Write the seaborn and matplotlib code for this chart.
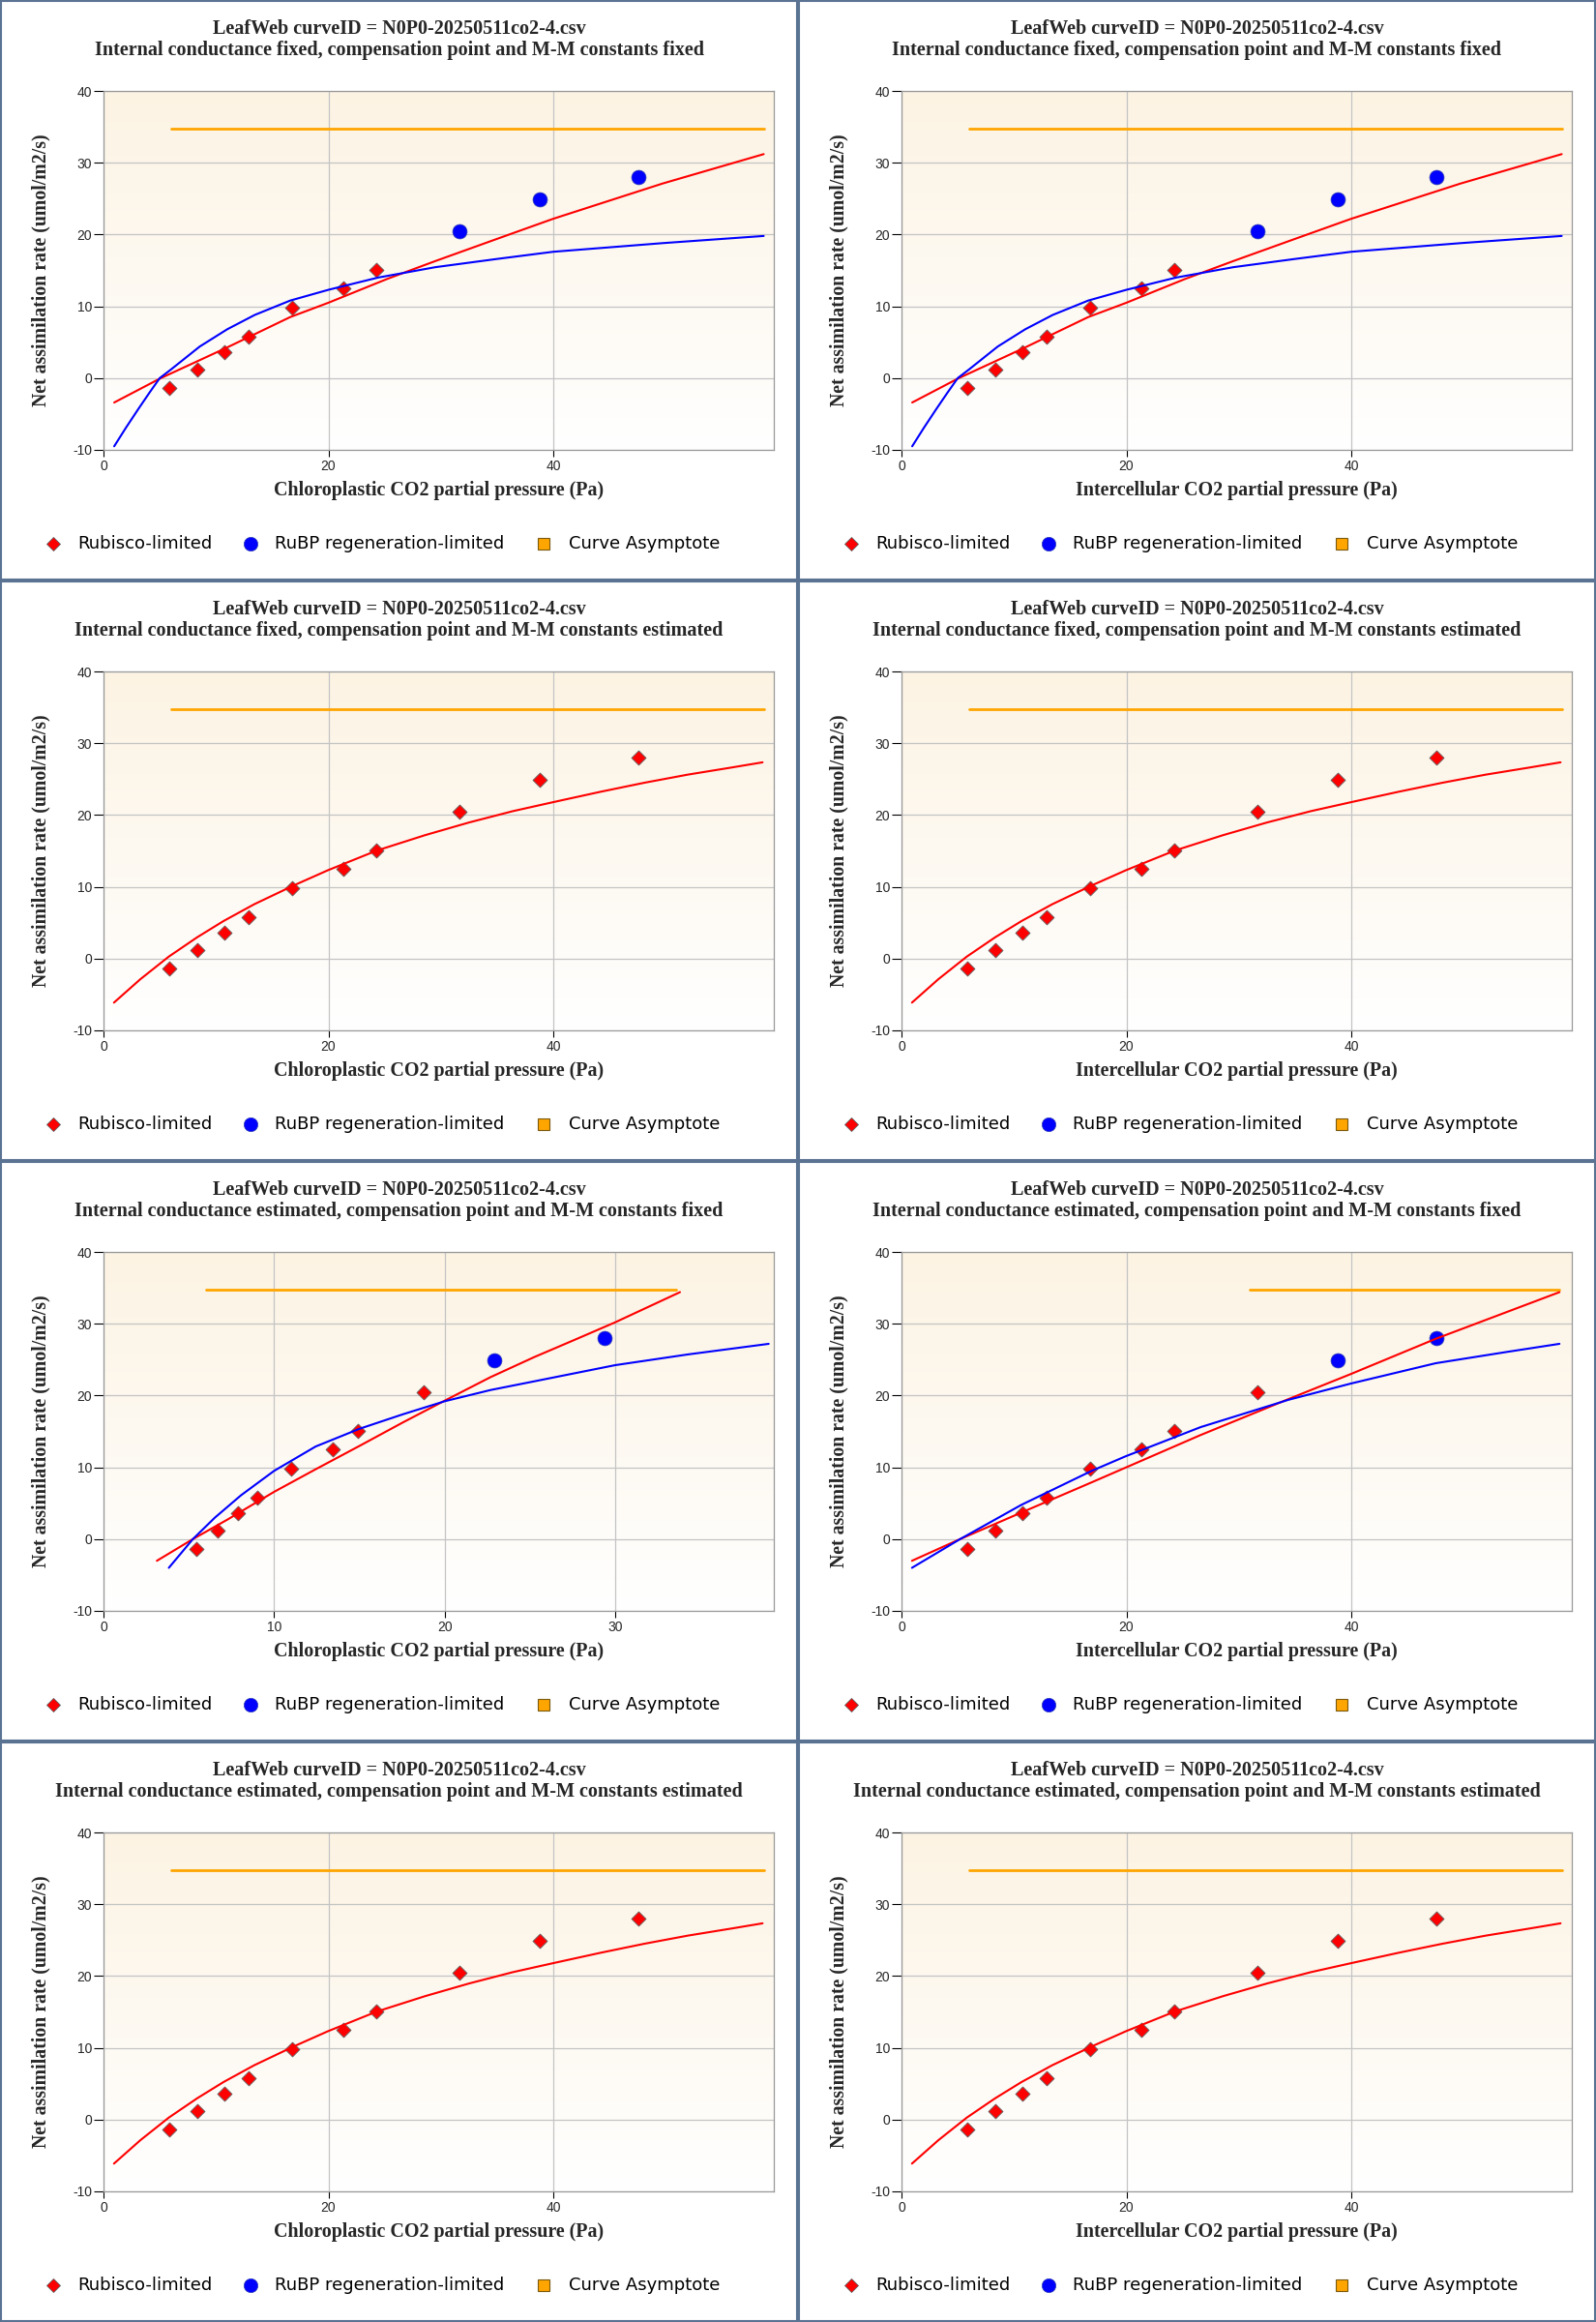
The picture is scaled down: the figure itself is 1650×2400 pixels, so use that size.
import numpy as np
import pandas as pd
import matplotlib
matplotlib.use("Agg")
import matplotlib.pyplot as plt
import seaborn as sns
from matplotlib.lines import Line2D
from matplotlib.patches import Rectangle
from matplotlib.colors import LinearSegmentedColormap

# ---- data ----
curve_id = "LeafWeb curveID = N0P0-20250511co2-4.csv"

# measured points (A vs Ci, and A vs Cc when gm is estimated)
ci_obs = [5.84, 8.30, 10.74, 12.88, 16.77, 21.35, 24.25, 31.68, 38.80, 47.58]
cc_obs_gm = [5.46, 6.67, 7.90, 9.03, 11.03, 13.43, 14.91, 18.79, 22.93, 29.35]
a_obs = [-1.40, 1.22, 3.58, 5.73, 9.76, 12.56, 15.06, 20.40, 24.93, 28.03]

# gm fixed, Gamma*/Km fixed
red_ff_x = [0.95, 5.1, 10.9, 16.6, 20.0, 25.2, 29.5, 35.0, 40.0, 49.7, 58.7]
red_ff_y = [-3.4, 0.0, 4.2, 8.5, 10.5, 13.8, 16.3, 19.4, 22.2, 27.1, 31.2]
blue_ff_x = [0.95, 2.0, 3.1, 4.1, 5.0, 6.0, 8.56, 11.0, 13.45, 16.6, 20.0, 24.4,
             29.5, 35.0, 40.0, 49.7, 58.7]
blue_ff_y = [-9.5, -6.9, -4.3, -2.0, 0.0, 1.2, 4.4, 6.8, 8.8, 10.8, 12.3, 14.0,
             15.45, 16.6, 17.6, 18.8, 19.8]

# Gamma*/Km estimated (only Rubisco-limited)
red_est_x = [0.93, 3.27, 5.8, 8.33, 10.67, 13.4, 16.9, 19.94, 24.3, 28.6, 32.5,
             36.4, 40.0, 44.2, 48.1, 51.96, 55.85, 58.6]
red_est_y = [-6.13, -2.88, 0.27, 2.97, 5.23, 7.57, 10.18, 12.3, 15.05, 17.2,
             18.96, 20.54, 21.8, 23.24, 24.5, 25.63, 26.62, 27.34]

# gm estimated, Gamma*/Km fixed, chloroplastic
red_gc_x = [3.13, 5.24, 7.29, 10.0, 12.44, 15.0, 17.56, 20.0, 22.7, 25.26, 27.83, 30.0, 33.8]
red_gc_y = [-3.02, 0.0, 2.75, 6.58, 9.73, 12.97, 16.26, 19.28, 22.57, 25.36, 27.97, 30.2, 34.4]
blue_gc_x = [3.83, 5.24, 6.52, 8.06, 10.0, 12.44, 15.0, 17.56, 20.0, 22.7, 25.26,
             30.0, 34.25, 39.0]
blue_gc_y = [-4.0, 0.0, 2.97, 6.1, 9.5, 12.9, 15.36, 17.39, 19.2, 20.77, 21.98,
             24.23, 25.72, 27.2]

# gm estimated, Gamma*/Km fixed, intercellular
red_gi_x = [0.93, 5.21, 10.66, 16.9, 26.6, 34.4, 39.96, 47.5, 58.5]
red_gi_y = [-3.02, 0.0, 3.7, 7.9, 14.5, 19.5, 23.0, 27.9, 34.4]
blue_gi_x = [0.93, 5.21, 10.66, 16.9, 19.92, 26.6, 34.4, 39.96, 47.5, 53.85, 58.5]
blue_gi_y = [-4.0, 0.0, 4.77, 9.5, 11.53, 15.6, 19.4, 21.67, 24.5, 26.08, 27.2]

asymptote = 34.68

sub_ff = "Internal conductance fixed, compensation point and M-M constants fixed"
sub_fe = "Internal conductance fixed, compensation point and M-M constants estimated"
sub_ef = "Internal conductance estimated, compensation point and M-M constants fixed"
sub_ee = "Internal conductance estimated, compensation point and M-M constants estimated"
xlab_c = "Chloroplastic CO2 partial pressure (Pa)"
xlab_i = "Intercellular CO2 partial pressure (Pa)"

legend_labels = ["Rubisco-limited", "RuBP regeneration-limited", "Curve Asymptote"]

panels = [
    dict(sub=sub_ff, xlab=xlab_c, x=ci_obs, n_rub=7, red=(red_ff_x, red_ff_y),
         blue=(blue_ff_x, blue_ff_y), asym=(5.98, 58.7), xmax=59.6, ticks=[0, 20, 40]),
    dict(sub=sub_ff, xlab=xlab_i, x=ci_obs, n_rub=7, red=(red_ff_x, red_ff_y),
         blue=(blue_ff_x, blue_ff_y), asym=(5.98, 58.7), xmax=59.6, ticks=[0, 20, 40]),
    dict(sub=sub_fe, xlab=xlab_c, x=ci_obs, n_rub=10, red=(red_est_x, red_est_y),
         blue=None, asym=(5.98, 58.7), xmax=59.6, ticks=[0, 20, 40]),
    dict(sub=sub_fe, xlab=xlab_i, x=ci_obs, n_rub=10, red=(red_est_x, red_est_y),
         blue=None, asym=(5.98, 58.7), xmax=59.6, ticks=[0, 20, 40]),
    dict(sub=sub_ef, xlab=xlab_c, x=cc_obs_gm, n_rub=8, red=(red_gc_x, red_gc_y),
         blue=(blue_gc_x, blue_gc_y), asym=(6.0, 33.56), xmax=39.3, ticks=[0, 10, 20, 30]),
    dict(sub=sub_ef, xlab=xlab_i, x=ci_obs, n_rub=8, red=(red_gi_x, red_gi_y),
         blue=(blue_gi_x, blue_gi_y), asym=(31.0, 58.5), xmax=59.6, ticks=[0, 20, 40]),
    dict(sub=sub_ee, xlab=xlab_c, x=ci_obs, n_rub=10, red=(red_est_x, red_est_y),
         blue=None, asym=(5.98, 58.7), xmax=59.6, ticks=[0, 20, 40]),
    dict(sub=sub_ee, xlab=xlab_i, x=ci_obs, n_rub=10, red=(red_est_x, red_est_y),
         blue=None, asym=(5.98, 58.7), xmax=59.6, ticks=[0, 20, 40]),
]

# ---- style ----
sns.set_style("white")
plt.rcParams["axes.unicode_minus"] = False
plt.rcParams["font.family"] = ["DejaVu Sans"]

W, H = 1650, 2400
PW, PH = 825, 600
fig = plt.figure(figsize=(W / 100, H / 100), dpi=100)
fig.patch.set_facecolor("white")

bg_cmap = LinearSegmentedColormap.from_list("bg", ["#fcf3e3", "#ffffff"])
grad = np.linspace(0, 1, 256).reshape(-1, 1)

RED, BLUE, ORANGE = "#ff0000", "#0000ff", "#ffa500"
serif = "Liberation Serif"


def fx(px):
    return px / W


def fy(py):
    return 1 - py / H


for i, p in enumerate(panels):
    r, c = divmod(i, 2)
    x0, y0 = c * PW, r * PH

    ax = fig.add_axes([fx(x0 + 107), fy(y0 + 465), 693 / W, 371 / H])
    ax.imshow(grad, extent=[0, p["xmax"], -10, 40], aspect="auto", cmap=bg_cmap,
              origin="upper", zorder=0, interpolation="bilinear")
    ax.set_xlim(0, p["xmax"])
    ax.set_ylim(-10, 40)
    ax.set_xticks(p["ticks"])
    ax.set_yticks([-10, 0, 10, 20, 30, 40])
    ax.grid(True, color="#c4c4c4", lw=0.9)
    ax.set_axisbelow(True)

    n = p["n_rub"]
    sns.scatterplot(x=p["x"][:n], y=a_obs[:n], marker="D", s=58, color=RED,
                    edgecolor="#606060", linewidth=0.6, ax=ax, zorder=3)
    if n < len(a_obs):
        sns.scatterplot(x=p["x"][n:], y=a_obs[n:], marker="o", s=115, color=BLUE,
                        edgecolor="#3040b0", linewidth=0.5, ax=ax, zorder=3)

    ax_x = [p["asym"][0], p["asym"][1]]
    sns.lineplot(x=ax_x, y=[asymptote, asymptote], color=ORANGE, lw=2.0, ax=ax,
                 sort=False, estimator=None, zorder=4)
    sns.lineplot(x=p["red"][0], y=p["red"][1], color=RED, lw=1.5, ax=ax,
                 sort=False, estimator=None, zorder=5)
    if p["blue"] is not None:
        sns.lineplot(x=p["blue"][0], y=p["blue"][1], color=BLUE, lw=1.5, ax=ax,
                     sort=False, estimator=None, zorder=5)

    for s in ax.spines.values():
        s.set_color("#999999")
        s.set_linewidth(0.9)
    ax.tick_params(axis="y", length=7, width=0.8, color="black", labelsize=10, pad=1.5,
                   left=True)
    ax.tick_params(axis="x", length=5, width=0.8, color="black", labelsize=10, pad=2.5,
                   bottom=True)
    for lab in ax.get_xticklabels() + ax.get_yticklabels():
        lab.set_fontfamily("Liberation Sans")

    ax.set_xlabel(p["xlab"], fontfamily=serif, fontweight="bold", fontsize=14.4)
    ax.xaxis.set_label_coords(0.5, (465 - 507) / 371)
    ax.xaxis.label.set_va("center")
    ax.set_ylabel("Net assimilation rate (umol/m2/s)", fontfamily=serif,
                  fontweight="bold", fontsize=14.2)
    ax.yaxis.set_label_coords((42 - 107) / 693, 0.5)
    ax.yaxis.label.set_va("center")

    # titles
    fig.text(fx(x0 + 412.5), fy(y0 + 30), curve_id, ha="center", va="center",
             fontfamily=serif, fontweight="bold", fontsize=14.5)
    fig.text(fx(x0 + 412.5), fy(y0 + 52), p["sub"], ha="center", va="center",
             fontfamily=serif, fontweight="bold", fontsize=14.5)

    # legend
    ly = fy(y0 + 562)
    fig.add_artist(Line2D([fx(x0 + 55)], [ly], marker="D", ms=7.2, color=RED,
                          markeredgecolor="#606060", markeredgewidth=0.6,
                          transform=fig.transFigure))
    fig.add_artist(Line2D([fx(x0 + 259)], [ly], marker="o", ms=10.3, color=BLUE,
                          markeredgecolor="#3040b0", markeredgewidth=0.5,
                          transform=fig.transFigure))
    fig.add_artist(Line2D([fx(x0 + 562)], [ly], marker="s", ms=9, color=ORANGE,
                          markeredgecolor="#7a5a10", markeredgewidth=0.8,
                          transform=fig.transFigure))
    for tx, lab in zip([80, 284, 588], legend_labels):
        fig.text(fx(x0 + tx), ly, lab, ha="left", va="center", fontsize=13,
                 fontfamily="DejaVu Sans", color="black")

    # panel border
    fig.add_artist(Rectangle((fx(x0 + 1), fy(y0 + 599)), (PW - 2) / W, (PH - 2) / H,
                             fill=False, edgecolor="#5b7393", lw=1.5,
                             transform=fig.transFigure))

fig.savefig("out.png", dpi=100, facecolor="white")
